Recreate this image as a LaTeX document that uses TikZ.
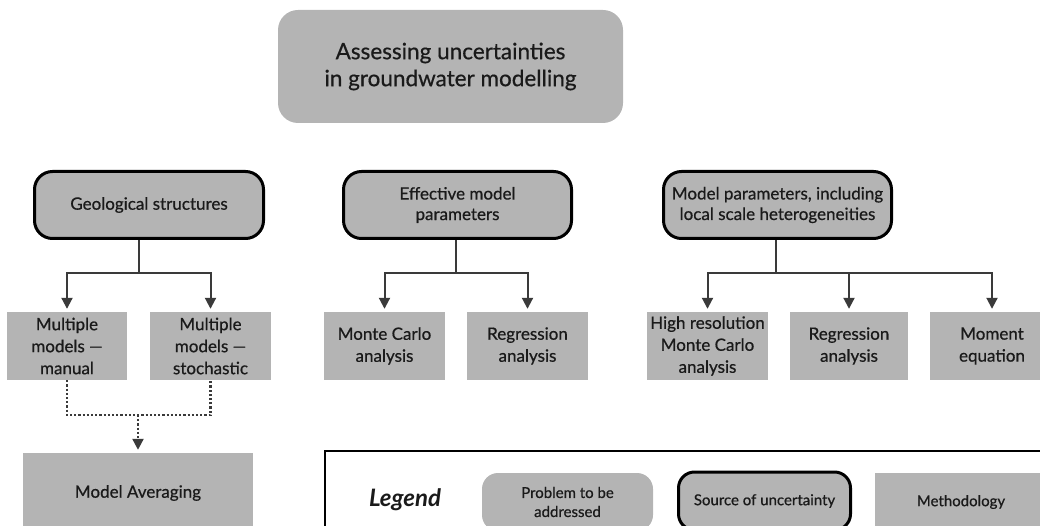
\documentclass[tikz,border=0pt]{standalone}
\usepackage{fontspec}
\setmainfont{Lato}[UprightFeatures={FakeBold=0.6}]
\usetikzlibrary{arrows.meta}
\definecolor{boxgray}{HTML}{B4B4B4}
\definecolor{txt}{HTML}{1A1A1A}
\definecolor{linegray}{HTML}{3A3A3A}
\tikzset{
  base/.style={fill=boxgray, text=txt, align=center, inner sep=2pt, anchor=center},
  problem/.style={base, rounded corners=20pt, draw=none},
  source/.style={base, rounded corners=18pt, draw=black, line width=3pt, font=\fontsize{17}{20.5}\selectfont},
  method/.style={base, draw=none, font=\fontsize{17}{22}\selectfont},
  conn/.style={draw=linegray, line width=2pt},
  arr/.style={conn, -{Triangle[length=11pt,width=11pt]}, shorten >=3pt},
  dots/.style={draw=linegray, line width=2.2pt, dotted},
  darr/.style={dots, -{Triangle[length=11pt,width=11pt]}, shorten >=3pt},
}
\begin{document}
\begin{tikzpicture}[x=1pt,y=-1pt]
\useasboundingbox (0,0) rectangle (1040,526);
\clip (0,0) rectangle (1040,526);
% title
\node[problem, minimum width=345pt, minimum height=113pt, font=\fontsize{22.5}{27}\selectfont] (title) at (450.5,66.5) {Assessing uncertainties\\in groundwater modelling};
% sources
\node[source, minimum width=229pt, minimum height=67pt] (geo) at (149,205) {Geological structures};
\node[source, minimum width=228pt, minimum height=67pt] (eff) at (457.5,205) {Effective model\\parameters};
\node[source, minimum width=228pt, minimum height=67pt] (mp) at (777.5,205) {Model parameters, including\\local scale heterogeneities};
% methods
\node[method, minimum width=120pt, minimum height=68pt] (man) at (67,346) {Multiple\\models —\\manual};
\node[method, minimum width=121pt, minimum height=68pt] (sto) at (210.5,346) {Multiple\\models —\\stochastic};
\node[method, minimum width=121pt, minimum height=68pt] (mc) at (384.5,346) {Monte Carlo\\analysis};
\node[method, minimum width=121pt, minimum height=68pt] (reg) at (527.5,346) {Regression\\analysis};
\node[method, minimum width=121pt, minimum height=68pt] (hr) at (707.5,346) {High resolution\\Monte Carlo\\analysis};
\node[method, minimum width=118pt, minimum height=68pt] (reg2) at (849,346) {Regression\\analysis};
\node[method, minimum width=124pt, minimum height=68pt] (mom) at (992,346) {Moment\\equation};
\node[method, minimum width=230pt, minimum height=80pt, font=\fontsize{17}{20}\selectfont] (avg) at (138,493) {Model Averaging};
% connectors
\coordinate (g1) at (139,273);
\coordinate (e1) at (456,273);
\coordinate (m1) at (776,273);
\draw[conn] (geo.south -| g1) -- (g1);
\draw[arr] (g1) -| (man.north);
\draw[arr] (g1) -| (sto.north);
\draw[conn] (eff.south -| e1) -- (e1);
\draw[arr] (e1) -| (mc.north);
\draw[arr] (e1) -| (reg.north);
\draw[conn] (mp.south -| m1) -- (m1);
\draw[arr] (m1) -| (hr.north);
\draw[arr] (m1) -| (reg2.north);
\draw[arr] (m1) -| (mom.north);
\coordinate (d1) at (138,415);
\draw[dots] (man.south) |- (d1) -| (sto.south);
\draw[darr] (d1) -- (avg.north);
% legend
\draw[black, line width=1.2pt] (325,451) rectangle (1070,570);
\node[text=txt, font=\fontsize{24}{26}\bfseries\itshape\selectfont] (leg) at (405,500) {Legend};
\node[problem, rounded corners=16pt, minimum width=171pt, minimum height=58pt, font=\fontsize{15}{19}\selectfont] (lp) at (567.5,502) {Problem to be\\addressed};
\node[source, rounded corners=16pt, minimum width=172pt, minimum height=58pt, font=\fontsize{15}{16}\selectfont] (ls) at (764.5,501) {Source of uncertainty};
\node[method, minimum width=185pt, minimum height=58pt] (lm) at (967.5,502) {};
\node[text=txt, font=\fontsize{15}{16}\selectfont] (lmt) at (961,502) {Methodology};
\end{tikzpicture}
\end{document}
